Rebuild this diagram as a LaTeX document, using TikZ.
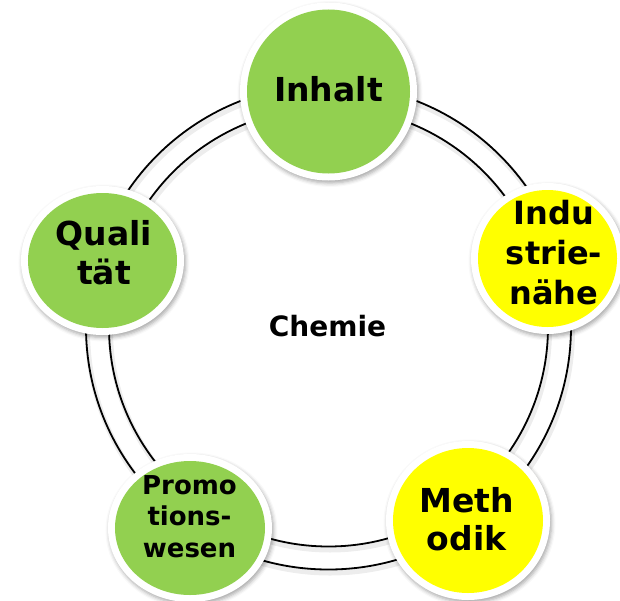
\documentclass[tikz,border=0pt]{standalone}
\usepackage{fontspec}
\setmainfont{DejaVu Sans}
\usetikzlibrary{shapes.geometric,shadows.blur}
\definecolor{leafgreen}{HTML}{92D050}
\definecolor{signalyellow}{HTML}{FFFF00}
\tikzset{
    bubble/.style n args={3}{ellipse, fill=white, inner sep=0pt, outer sep=0pt,
        minimum width={2*(#2+7pt)}, minimum height={2*(#3+7pt)},
        blur shadow={shadow xshift=1.5pt, shadow yshift=-2.5pt,
            shadow blur radius=4pt, shadow opacity=35},
        path picture={\fill[#1] (path picture bounding box.center)
            ellipse [x radius=#2, y radius=#3];}},
    word/.style 2 args={font=\bfseries\fontsize{#1}{#2}\selectfont,
        align=center, inner sep=0pt},
    rim/.style={line width=1.8pt},
    rimshadow/.style={line width=5pt, black, opacity=0.07,
        transform canvas={shift={(1.5pt,-3.5pt)}}}
}
\begin{document}
\begin{tikzpicture}[x=1pt,y=1pt]
        \useasboundingbox (-328.5,-273) rectangle (291.5,327);
        %% Ring
        \coordinate (hub) at (0,0);
        \draw[rimshadow] (hub) circle (242.5) (hub) circle (219.5);
        \draw[rim] (hub) circle (242.5);
        \draw[rim] (hub) circle (219.5);
        %% Centre
        \node[word={28}{34}] (chemie) at (-1,0.5) {Chemie};
        %% Bubbles
        \node[bubble={leafgreen}{81.5}{82}] (inhalt) at (0,235.5) {};
        \node[bubble={signalyellow}{69.5}{68.5}] (industrie) at (219,68.5) {};
        \node[bubble={signalyellow}{75}{72.5}] (methodik) at (139.5,-193.5) {};
        \node[bubble={leafgreen}{75}{67}] (promotion) at (-138.5,-201) {};
        \node[bubble={leafgreen}{74.5}{67.5}] (qualitaet) at (-226,66.5) {};
        %% Labels
        \node[word={33}{40}] (inhalt-txt) at ([yshift=2]inhalt.center) {Inhalt};
        \node[word={32}{40}] (industrie-txt) at ([shift={(6.5,5.5)}]industrie.center) {Indu\\strie-\\nähe};
        \node[word={33}{38}] (methodik-txt) at ([shift={(-1.5,1.5)}]methodik.center) {Meth\\odik};
        \node[word={26}{31.5}] (promotion-txt) at ([shift={(-0.5,11.5)}]promotion.center) {Promo\\tions-\\wesen};
        \node[word={33}{39}] (qualitaet-txt) at ([shift={(1.5,7.5)}]qualitaet.center) {Quali\\tät};
    \end{tikzpicture}
\end{document}
